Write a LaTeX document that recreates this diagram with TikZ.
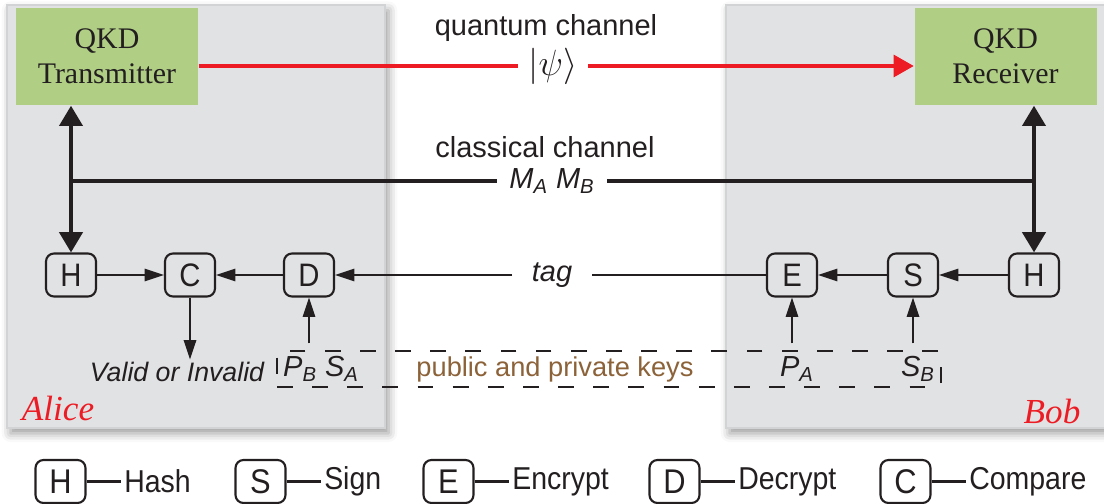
\documentclass[tikz,border=0pt]{standalone}
\usepackage{fontspec}
\setmainfont{Liberation Sans}
\newfontfamily\qkdfont{Liberation Serif}
\newfontfamily\narrowfont{Liberation Sans}[FakeStretch=0.9]
\usepackage{tikz}
\usetikzlibrary{arrows.meta,positioning,shadows.blur}
\definecolor{panelgray}{HTML}{E1E2E4}
\definecolor{paneledge}{HTML}{D2D3D5}
\definecolor{qkdgreen}{HTML}{B0CF84}
\definecolor{qred}{HTML}{ED1C24}
\definecolor{keybrown}{HTML}{8C6239}
\definecolor{inkblack}{HTML}{231F20}
\tikzset{fontscale/.style = {font=\fontsize{16.5}{19}\selectfont}}
\tikzstyle{panel}=[fill=panelgray, draw=paneledge, line width=0.8pt, blur shadow={shadow xshift=2pt, shadow yshift=-3pt, shadow blur radius=5pt}]
\tikzstyle{qkd}=[rectangle, fill=qkdgreen, minimum width=3.64cm, minimum height=1.94cm, align=center, text=inkblack, font=\qkdfont\fontsize{17}{20}\selectfont]
\tikzstyle{opbox}=[rectangle, rounded corners=0.16cm, draw=inkblack, line width=1.2pt, minimum width=1cm, minimum height=0.86cm, inner sep=0pt, text=inkblack, font=\narrowfont\fontsize{18.5}{20}\selectfont]
\tikzstyle{lbl}=[rectangle, text=inkblack, fontscale]
\tikzstyle{gap}=[rectangle, fill=white, inner ysep=0.05cm, text=inkblack, fontscale]
\tikzstyle{note}=[rectangle, inner sep=0.04cm, text=inkblack, font=\itshape\fontsize{15.2}{18}\selectfont]
\tikzstyle{keylbl}=[rectangle, minimum height=1cm, inner sep=0pt, text=inkblack, font=\itshape\fontsize{16.5}{18}\selectfont]
\tikzstyle{keybox}=[rectangle, draw=inkblack, line width=1.2pt, dash pattern=on 9pt off 11pt, minimum width=13.28cm, minimum height=0.72cm, inner sep=0pt]
\tikzstyle{keynote}=[rectangle, text=keybrown, font=\fontsize{15.5}{18}\selectfont]
\tikzstyle{who}=[rectangle, text=qred, font=\qkdfont\itshape\fontsize{20}{24}\selectfont]
\tikzstyle{legtext}=[rectangle, inner sep=0.05cm, text=inkblack, font=\narrowfont\fontsize{18}{20}\selectfont]

\begin{document}
\begin{tikzpicture}[thick, >={Triangle[length=11pt,width=7pt]},
  link/.style={line width=1.2pt, draw=inkblack, ->},
  bus/.style={line width=2.4pt, draw=inkblack, {Triangle[length=11.5pt,width=13pt]}-{Triangle[length=11.5pt,width=13pt]}},
  qline/.style={line width=1.9pt, draw=qred},
  legline/.style={line width=1.3pt, draw=inkblack}]

\useasboundingbox (0,0) rectangle (22.08,-10.08);

% Alice and Bob
\draw[panel] (0.14,-0.10) rectangle (7.70,-8.56);
\draw[panel] (14.52,-0.10) rectangle (22.30,-8.56);

\node[qkd] (tx) at (2.14,-1.13) {QKD\\Transmitter};
\node[qkd] (rx) at (20.11,-1.13) {QKD\\Receiver};

% channel labels
\node[lbl] (qc) at (10.92,-0.56) {quantum channel};
\node[gap, inner xsep=0.2cm, font=\fontsize{19.5}{22}\selectfont] (psi) at (11.06,-1.32) {$|\psi\rangle$};
\node[lbl] (cc) at (10.90,-2.94) {classical channel};
\node[gap, inner xsep=0.24cm] (mab) at (11.04,-3.62) {\itshape M\textsubscript{A} M\textsubscript{B}};

% operations
\node[opbox] (aH) at (1.42,-5.50) {H};
\node[opbox] (aC) at (3.80,-5.50) {C};
\node[opbox] (aD) at (6.18,-5.50) {D};
\node[opbox] (bE) at (15.84,-5.50) {E};
\node[opbox] (bS) at (18.26,-5.50) {S};
\node[opbox] (bH) at (20.68,-5.50) {H};
\node[gap, inner xsep=0.38cm] (tag) at (11.04,-5.50) {\itshape tag};

% quantum channel
\draw[qline] (tx.east |- psi) -- (psi.west);
\draw[qline, -{Triangle[length=11.5pt,width=12.5pt]}] (psi.east) -- (rx.west |- psi);

% classical channel
\draw[bus] (aH.north |- tx.south) -- (aH.north);
\draw[bus] (bH.north |- rx.south) -- (bH.north);
\draw[line width=2.4pt, draw=inkblack] (aH.north |- mab) -- (mab.west);
\draw[line width=2.4pt, draw=inkblack] (mab.east) -- (bH.north |- mab);

% tag path
\draw[link] (aH) -- (aC);
\draw[link] (aD) -- (aC);
\draw[line width=1.1pt, draw=inkblack] (bE) -- (tag);
\draw[link] (tag) -- (aD);
\draw[link] (bS) -- (bE);
\draw[link] (bH) -- (bS);

\node[note] (valid) at (3.54,-7.44) {Valid or Invalid};
\draw[link] (aC) -- (aC.south |- valid.north);

% keys
\node[keybox] (keys) at (12.18,-7.38) {};
\node[keylbl] (kA) at (6.42,-7.38) {P\textsubscript{B} S\textsubscript{A}};
\node[keylbl] (kE) at (15.94,-7.38) {P\textsubscript{A}};
\node[keylbl] (kS) at (18.36,-7.38) {S\textsubscript{B}};
\node[keynote] (kt) at (11.10,-7.38) {public and private keys};
\draw[link] (aD.south |- kA.north) -- (aD);
\draw[link] (bE.south |- kE.north) -- (bE);
\draw[link] (bS.south |- kS.north) -- (bS);

\node[who] (alice) at (1.16,-8.16) {Alice};
\node[who] (bob) at (21.04,-8.22) {Bob};

% Legends
\foreach \x/\l/\t in {1.21/H/Hash, 5.21/S/Sign, 8.97/E/Encrypt, 13.49/D/Decrypt, 18.11/C/Compare}{
  \node[opbox, fill=white, font=\narrowfont\fontsize{19.5}{21}\selectfont] (lg\l) at (\x,-9.63) {\l};
  \node[legtext, right=0.69cm of lg\l] (lt\l) {\t};
  \draw[legline] (lg\l) -- (lt\l);
}
\end{tikzpicture}
\end{document}
